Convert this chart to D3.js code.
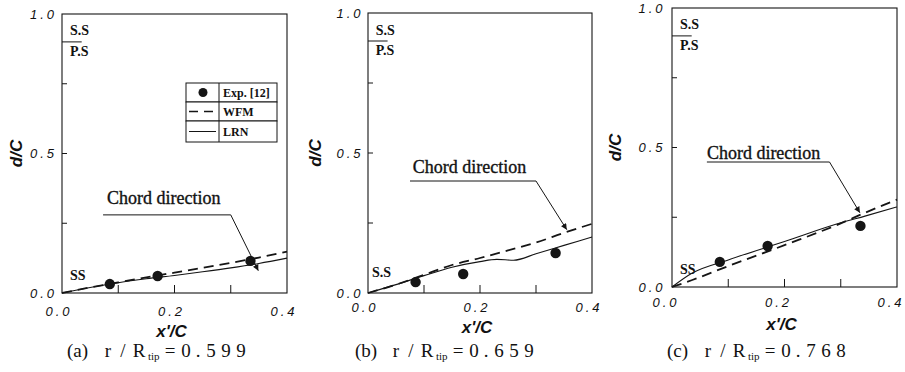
<!DOCTYPE html>
<html>
<head>
<meta charset="utf-8">
<script src="https://cdn.jsdelivr.net/npm/d3@7"></script>
<style>
  body { margin: 0; background: #fff; }
  svg { display: block; }
  .tick-label { font-family: "Liberation Sans", Arial, sans-serif; font-style: italic; font-size: 13px; letter-spacing: 3px; fill: #111; }
  .axis-title { font-family: "Liberation Sans", Arial, sans-serif; font-style: italic; font-weight: bold; font-size: 17px; fill: #111; }
  .serif { font-family: "Liberation Serif", "Times New Roman", serif; fill: #111; }
</style>
</head>
<body>
<div id="chart-area"></div>
<script>
// panels
var panelNames = ["a", "b", "c"]
var radiusRatio = ["0.599", "0.659", "0.768"]

// Exp. [12] points
var expX = [0.085, 0.17, 0.335]
var expA = [0.032, 0.061, 0.115]
var expB = [0.039, 0.068, 0.143]
var expC = [0.09, 0.147, 0.219]

// WFM (dashed) and LRN (solid)
var lineXA = [0, 0.05, 0.1, 0.15, 0.2, 0.25, 0.3, 0.35, 0.4]
var wfmA = [0, 0.02, 0.038, 0.056, 0.073, 0.09, 0.108, 0.127, 0.148]
var lrnA = [0, 0.02, 0.037, 0.051, 0.063, 0.076, 0.09, 0.106, 0.125]

var wfmXB = [0, 0.05, 0.1, 0.15, 0.2, 0.25, 0.3, 0.35, 0.4]
var wfmB = [0, 0.03, 0.065, 0.1, 0.125, 0.152, 0.18, 0.215, 0.247]
var lrnXB = [0, 0.05, 0.1, 0.15, 0.2, 0.23, 0.26, 0.3, 0.35, 0.4]
var lrnB = [0, 0.03, 0.062, 0.092, 0.112, 0.12, 0.117, 0.14, 0.17, 0.2]

var lineXC = [0, 0.036, 0.1, 0.2, 0.3, 0.343, 0.4]
var wfmC = [0, 0.025, 0.075, 0.15, 0.228, 0.266, 0.313]
var lrnC = [0, 0.05, 0.097, 0.163, 0.23, 0.254, 0.287]

// ticks
var xTickLabels = [0.0, 0.2, 0.4]
var yTickLabels = [0.0, 0.5, 1.0]
var xMinorTicks = [0.1, 0.2, 0.3]
var yMinorTicks = [0.25, 0.5, 0.75]

var panels = [
  { exp: expA, wfmX: lineXA, wfm: wfmA, lrnX: lineXA, lrn: lrnA,
    box: [62, 287, 14, 293], labelDy: 23, xLabDx: -3, yLabDx: -5, titleY: 337, dTitleDx: -40, capX: 67,
    chord: { text: [0.08, 0.32], start: [0.073, 0.28], elbow: [0.3, 0.28], tip: [0.349, 0.08] },
    ss: [0.014, 0.047], ssText: "SS", legend: true },
  { exp: expB, wfmX: wfmXB, wfm: wfmB, lrnX: lrnXB, lrn: lrnB,
    box: [368, 592, 13, 293], labelDy: 19, xLabDx: -3, yLabDx: -4.5, titleY: 333, dTitleDx: -47, capX: 355,
    chord: { text: [0.08, 0.43], start: [0.075, 0.4], elbow: [0.3, 0.4], tip: [0.355, 0.226] },
    ss: [0.007, 0.057], ssText: "S.S", legend: false },
  { exp: expC, wfmX: lineXC, wfm: wfmC, lrnX: lineXC, lrn: lrnC,
    box: [672, 897, 8, 287], labelDy: 20, xLabDx: -6, yLabDx: -6.5, titleY: 330, dTitleDx: -51, capX: 667,
    chord: { text: [0.062, 0.46], start: [0.062, 0.448], elbow: [0.28, 0.448], tip: [0.334, 0.266] },
    ss: [0.014, 0.045], ssText: "SS", legend: false }
]

var ink = "#151515"

var svg = d3.select("#chart-area").append("svg")
  .attr("width", 905)
  .attr("height", 372)

svg.append("defs").append("marker")
  .attr("id", "arrow")
  .attr("viewBox", "0 0 10 10")
  .attr("refX", 10).attr("refY", 5)
  .attr("markerWidth", 9).attr("markerHeight", 6)
  .attr("markerUnits", "userSpaceOnUse")
  .attr("orient", "auto")
  .append("path")
  .attr("d", "M0,0 L10,5 L0,10 Z")
  .attr("fill", ink)

panels.forEach(function (p, i) {
  var x = d3.scaleLinear().domain([0, 0.4]).range([p.box[0], p.box[1]])
  var y = d3.scaleLinear().domain([0, 1]).range([p.box[3], p.box[2]])
  var g = svg.append("g")

  // frame
  g.append("rect")
    .attr("x", x(0)).attr("y", y(1))
    .attr("width", x(0.4) - x(0)).attr("height", y(0) - y(1))
    .attr("fill", "none").attr("stroke", ink).attr("stroke-width", 1.1)

  // inward minor ticks
  g.selectAll(".xt").data(xMinorTicks).enter().append("line")
    .attr("x1", function (d) { return x(d) }).attr("x2", function (d) { return x(d) })
    .attr("y1", y(0)).attr("y2", y(0) - 8)
    .attr("stroke", ink)
  g.selectAll(".yt").data(yMinorTicks).enter().append("line")
    .attr("x1", x(0)).attr("x2", x(0) + 5)
    .attr("y1", function (d) { return y(d) }).attr("y2", function (d) { return y(d) })
    .attr("stroke", ink)

  // tick labels
  g.selectAll(".xl").data(xTickLabels).enter().append("text")
    .attr("class", "tick-label")
    .attr("x", function (d) { return x(d) + p.xLabDx })
    .attr("y", y(0) + p.labelDy)
    .attr("text-anchor", "middle")
    .text(function (d) { return d.toFixed(1) })
  g.selectAll(".yl").data(yTickLabels).enter().append("text")
    .attr("class", "tick-label")
    .attr("x", x(0) + p.yLabDx)
    .attr("y", function (d) { return y(d) + 4.5 })
    .attr("text-anchor", "end")
    .text(function (d) { return d.toFixed(1) })

  // axis titles
  g.append("text").attr("class", "axis-title")
    .attr("x", (x(0) + x(0.4)) / 2 - 3).attr("y", p.titleY)
    .attr("text-anchor", "middle").text("x'/C")
  g.append("text").attr("class", "axis-title")
    .attr("transform", "translate(" + (x(0) + p.dTitleDx) + "," + y(0.5) + ") rotate(-90)")
    .attr("text-anchor", "middle").text("d/C")

  // S.S / P.S marker
  g.append("line")
    .attr("x1", x(0)).attr("x2", x(0.035))
    .attr("y1", y(0.9)).attr("y2", y(0.9))
    .attr("stroke", ink)
  g.append("text").attr("class", "serif")
    .attr("x", x(0.014)).attr("y", y(0.923))
    .style("font-size", "14px").style("font-weight", "bold")
    .text("S.S")
  g.append("text").attr("class", "serif")
    .attr("x", x(0.014)).attr("y", y(0.85))
    .style("font-size", "14px").style("font-weight", "bold")
    .text("P.S")
  g.append("text").attr("class", "serif")
    .attr("x", x(p.ss[0])).attr("y", y(p.ss[1]))
    .style("font-size", "14px").style("font-weight", "bold")
    .text(p.ssText)

  // curves
  var wfmPts = p.wfmX.map(function (d, k) { return [d, p.wfm[k]] })
  var lrnPts = p.lrnX.map(function (d, k) { return [d, p.lrn[k]] })
  var line = d3.line()
    .x(function (d) { return x(d[0]) })
    .y(function (d) { return y(d[1]) })
    .curve(d3.curveMonotoneX)

  g.append("path").datum(lrnPts)
    .attr("d", line).attr("fill", "none")
    .attr("stroke", ink).attr("stroke-width", 1.1)
  g.append("path").datum(wfmPts)
    .attr("d", line).attr("fill", "none")
    .attr("stroke", ink).attr("stroke-width", 1.8)
    .attr("stroke-dasharray", "10,6")

  // experiment points
  g.selectAll(".exp").data(expX).enter().append("circle")
    .attr("cx", function (d) { return x(d) })
    .attr("cy", function (d, k) { return y(p.exp[k]) })
    .attr("r", 5.2)
    .attr("fill", ink)

  // chord direction annotation
  var c = p.chord
  g.append("text").attr("class", "serif")
    .attr("x", x(c.text[0])).attr("y", y(c.text[1]))
    .style("font-size", "18px")
    .style("stroke", ink).style("stroke-width", 0.35)
    .text("Chord direction")
  g.append("path")
    .attr("d", "M" + x(c.start[0]) + "," + y(c.start[1]) +
      " L" + x(c.elbow[0]) + "," + y(c.elbow[1]) +
      " L" + x(c.tip[0]) + "," + y(c.tip[1]))
    .attr("fill", "none").attr("stroke", ink).attr("stroke-width", 1)
    .attr("marker-end", "url(#arrow)")

  // caption, glyphs centred in fixed cells like the original typesetting
  var x0 = p.capX
  var cap = g.append("text").attr("class", "serif")
    .attr("y", 357)
    .style("font-size", "19px")
  cap.append("tspan").attr("x", x0).text("(" + panelNames[i] + ")")
  cap.append("tspan").attr("text-anchor", "middle")
    .attr("x", [41, 56, 72].map(function (o) { return x0 + o }).join(" "))
    .text("r/R")
  cap.append("tspan").attr("x", x0 + 81).attr("dy", 3)
    .style("font-size", "11px").text("tip")
  cap.append("tspan").attr("dy", -3).attr("text-anchor", "middle")
    .attr("x", [103, 119, 131, 144, 159, 174].map(function (o) { return x0 + o }).join(" "))
    .text("=" + radiusRatio[i])

  // legend (first panel only)
  if (p.legend) {
    var lx = 186, ly = 83, lw = 91, rh = [19, 19, 21], div = 33
    var lg = g.append("g")
    var yy = ly
    var names = ["Exp. [12]", "WFM", "LRN"]
    names.forEach(function (name, k) {
      lg.append("rect").attr("x", lx).attr("y", yy).attr("width", lw).attr("height", rh[k])
        .attr("fill", "#fff").attr("stroke", ink).attr("stroke-width", 1)
      lg.append("line").attr("x1", lx + div).attr("x2", lx + div)
        .attr("y1", yy).attr("y2", yy + rh[k]).attr("stroke", ink)
      var cy = yy + rh[k] / 2
      if (k === 0) {
        lg.append("circle").attr("cx", lx + 17).attr("cy", cy).attr("r", 4.5).attr("fill", ink)
      } else {
        lg.append("line").attr("x1", lx + 3).attr("x2", lx + div - 3)
          .attr("y1", cy).attr("y2", cy).attr("stroke", ink)
          .attr("stroke-width", k === 1 ? 1.4 : 1)
          .attr("stroke-dasharray", k === 1 ? "9,6" : null)
      }
      lg.append("text").attr("class", "serif")
        .attr("x", lx + div + 4).attr("y", cy + 4.5)
        .style("font-size", "12px").style("font-weight", "bold")
        .text(name)
      yy += rh[k]
    })
  }
})
</script>
</body>
</html>
